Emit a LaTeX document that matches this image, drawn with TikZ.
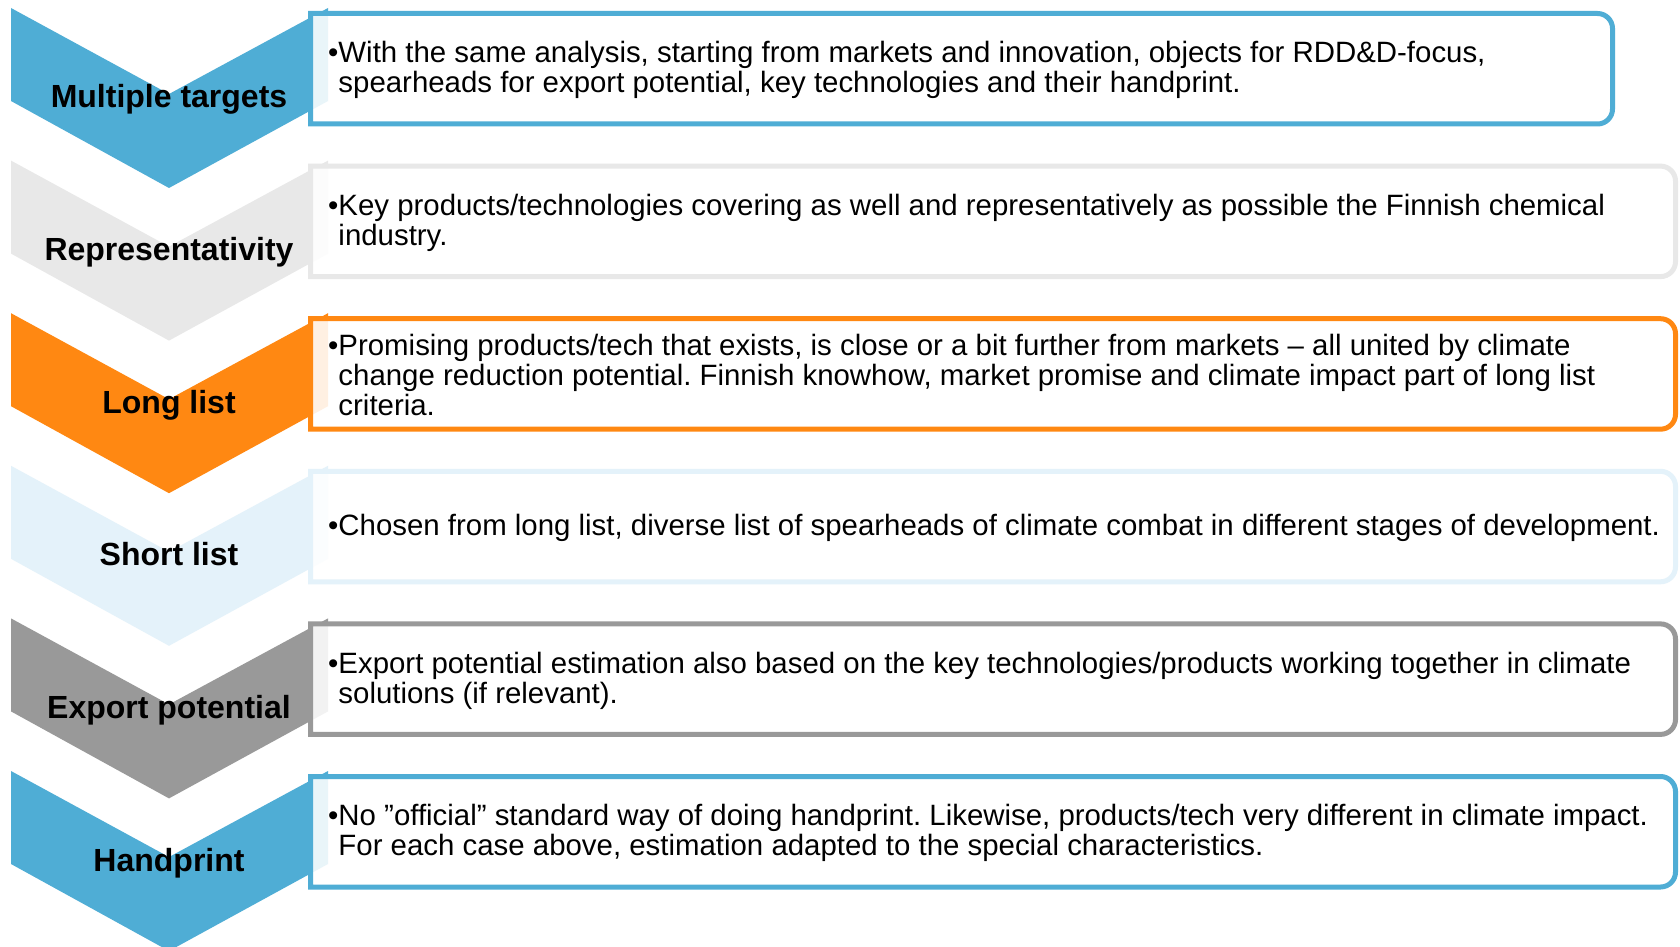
\documentclass[tikz,border=0pt]{standalone}
\usepackage{fontspec}
\setmainfont{Liberation Sans}
\frenchspacing
\definecolor{cblue}{HTML}{4FADD5}
\definecolor{cgreyl}{HTML}{E8E8E8}
\definecolor{corange}{HTML}{FF8812}
\definecolor{cblueL}{HTML}{E4F2FA}
\definecolor{cgrey}{HTML}{999999}
\newcommand\myrow[7]{%
  \fill[#3] (11,#2) -- (169,#2+86) -- (328,#2) -- (328,#2+93) -- (169,#2+180) -- (11,#2+93) -- cycle;
  \node[lbl, anchor=base] (#1lab) at (169,#2+100) {#6};
  \draw[box, draw=#4] (310.5,#2+5.5) -- (#5-15,#2+5.5) .. controls (#5-6.72,#2+5.5) and (#5,#2+12.22) .. (#5,#2+20.5) -- (#5,#2+101) .. controls (#5,#2+109.28) and (#5-6.72,#2+116) .. (#5-15,#2+116) -- (310.5,#2+116) -- cycle;
  \node[body] (#1txt) at (328,#2+62) {#7};
}
\newcommand\cont{\hphantom{•}}
\begin{document}
\begin{tikzpicture}[x=1pt,y=-1pt,
  lbl/.style={font=\fontsize{32}{38}\selectfont\bfseries, text=black, inner sep=0pt},
  body/.style={font=\fontsize{29.4}{30}\selectfont, align=left, anchor=west, inner sep=0pt, text=black},
  box/.style={line width=5pt, fill=white, fill opacity=0.88, draw opacity=1}]
\useasboundingbox (0,0) rectangle (1680,947);
\fill[white] (0,0) rectangle (1680,947);
\myrow{r1}{8}{cblue}{cblue}{1612.5}{Multiple targets}{•With the same analysis, starting from markets and innovation, objects for RDD\&D-focus,\\\cont spearheads for export potential, key technologies and their handprint.}
\myrow{r2}{160.6}{cgreyl}{cgreyl}{1675.5}{Representativity}{•Key products/technologies covering as well and representatively as possible the Finnish chemical\\\cont industry.}
\myrow{r3}{313.2}{corange}{corange}{1675.5}{Long list}{•Promising products/tech that exists, is close or a bit further from markets – all united by climate\\\cont change reduction potential. Finnish knowhow, market promise and climate impact part of long list\\\cont criteria.}
\myrow{r4}{465.8}{cblueL}{cblueL}{1675.5}{Short list}{•Chosen from long list, diverse list of spearheads of climate combat in different stages of development.}
\myrow{r5}{618.4}{cgrey}{cgrey}{1675.5}{Export potential}{•Export potential estimation also based on the key technologies/products working together in climate\\\cont solutions (if relevant).}
\myrow{r6}{771}{cblue}{cblue}{1675.5}{Handprint}{•No ”official” standard way of doing handprint. Likewise, products/tech very different in climate impact.\\\cont For each case above, estimation adapted to the special characteristics.}
\end{tikzpicture}
\end{document}
